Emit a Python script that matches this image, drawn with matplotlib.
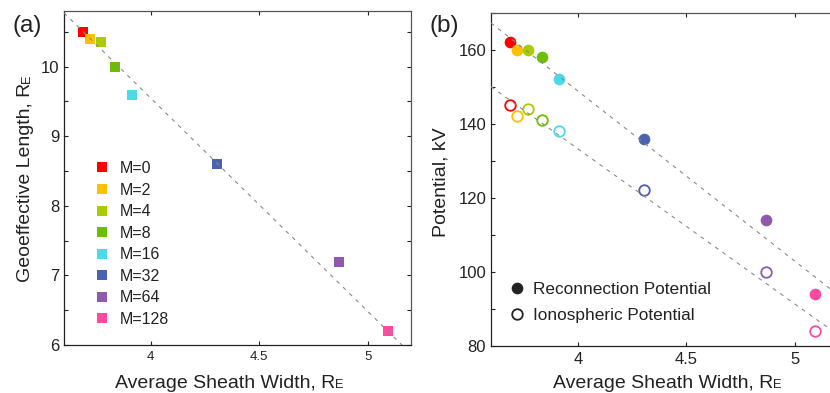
import matplotlib
matplotlib.use('Agg')
import matplotlib.pyplot as plt
from matplotlib.lines import Line2D
from matplotlib.ticker import MultipleLocator
import numpy as np

plt.rcParams['font.family'] = ['Liberation Sans', 'DejaVu Sans']

# ---------------- data ----------------
m_labels = ['M=0', 'M=2', 'M=4', 'M=8', 'M=16', 'M=32', 'M=64', 'M=128']
colors = ['#ff0000', '#ffc000', '#a8cc00', '#6cbf00', '#4fd8e6', '#4a62b0', '#9159ad', '#ff4aa0']
sheath_width = [3.689, 3.720, 3.771, 3.836, 3.915, 4.307, 4.866, 5.093]
geo_length = [10.5, 10.4, 10.35, 10.0, 9.6, 8.6, 7.2, 6.2]
recon_potential = [162, 160, 160, 158, 152, 136, 114, 94]
iono_potential = [145, 142, 144, 141, 138, 122, 100, 84]

W, H = 830, 393
TC = '#222222'
DASH = (0, (3.5, 4.5))
fig = plt.figure(figsize=(W / 100, H / 100), dpi=100)

axa = fig.add_axes([64 / W, 1 - 345 / H, (411 - 64) / W, (345 - 11) / H])
axb = fig.add_axes([491 / W, 1 - 346 / H, (838 - 491) / W, (346 - 12.7) / H])

xs = np.array(sheath_width)
xline = np.array([3.6, 5.2])

# ---------------- panel (a) ----------------
for x, y, c, lab in zip(sheath_width, geo_length, colors, m_labels):
    axa.plot([x], [y], 's', ms=7.7, color=c, mew=0, label=lab, zorder=2)
pa = np.polyfit([xs[0], xs[-1]], [geo_length[0], geo_length[-1]], 1)
axa.plot(xline, np.polyval(pa, xline), ls=DASH, color='#8a8a8a', lw=0.8, zorder=3)
axa.set_xlim(3.6, 5.2)
axa.set_ylim(6, 10.8)
axa.yaxis.set_major_locator(MultipleLocator(1))
axa.yaxis.set_minor_locator(MultipleLocator(0.5))
axa.set_xticks([4, 4.5, 5])
axa.set_xticklabels(['4', '4.5', '5'])
axa.tick_params(axis='x', labelsize=9.5, pad=4.5)
axa.tick_params(axis='y', labelsize=12, pad=3.5)
leg = axa.legend(loc='upper left', bbox_to_anchor=(93.7 / W, 1 - 161 / H), bbox_transform=fig.transFigure,
                 frameon=False, fontsize=11.5, handlelength=1.0, handletextpad=0.64,
                 labelspacing=0.41, borderpad=0, borderaxespad=0, markerscale=1.0)
for t in leg.get_texts():
    t.set_color(TC)

# ---------------- panel (b) ----------------
for x, y1, y2, c in zip(sheath_width, recon_potential, iono_potential, colors):
    axb.plot([x], [y1], 'o', ms=8.4, color=c, mew=0, zorder=2)
    axb.plot([x], [y2], 'o', ms=7.6, mfc='white', mec=c, mew=1.3, zorder=2)
pr = np.polyfit(xs, recon_potential, 1)
pi = np.polyfit(xs, iono_potential, 1)
axb.plot(xline, np.polyval(pr, xline), ls=DASH, color='#8a8a8a', lw=0.8, zorder=3)
axb.plot(xline, np.polyval(pi, xline), ls=DASH, color='#8a8a8a', lw=0.8, zorder=3)
axb.set_xlim(3.6, 5.2)
axb.set_ylim(80, 170)
axb.set_xticks([4, 4.5, 5])
axb.set_xticklabels(['4', '4.5', '5'])
axb.yaxis.set_major_locator(MultipleLocator(20))
axb.yaxis.set_minor_locator(MultipleLocator(10))
axb.tick_params(axis='x', labelsize=12, pad=4.5)
axb.tick_params(axis='y', labelsize=12, pad=3.5)
hb = [Line2D([], [], ls='none', marker='o', ms=8.4, color=TC, mew=0),
      Line2D([], [], ls='none', marker='o', ms=7.6, mfc='white', mec=TC, mew=1.3)]
legb = axb.legend(hb, ['Reconnection Potential', 'Ionospheric Potential'], loc='upper left',
                  bbox_to_anchor=(508 / W, 1 - 282 / H), bbox_transform=fig.transFigure,
                  frameon=False, fontsize=12.4, handlelength=1.0, handletextpad=0.43,
                  labelspacing=0.62, borderpad=0, borderaxespad=0)
for t in legb.get_texts():
    t.set_color(TC)

for ax in (axa, axb):
    ax.tick_params(which='both', direction='in', top=True, right=True, length=3, width=0.8,
                   color=TC, labelcolor=TC)
    for s in ('left', 'bottom'):
        ax.spines[s].set_color(TC)
    for s in ('top', 'right'):
        ax.spines[s].set_color('#555555')
    for s in ax.spines.values():
        s.set_linewidth(0.9)

# ---------------- labels ----------------
fig.canvas.draw()
renderer = fig.canvas.get_renderer()


def sub_label(center, base, main, sub, size=14, subsize=9.3, vertical=False):
    rot = 90 if vertical else 0
    t = fig.text(0, 0, main, size=size, color=TC, ha='left', va='baseline',
                 rotation=rot, rotation_mode='anchor')
    s = fig.text(0, 0, sub, size=subsize, color=TC, ha='left', va='baseline',
                 rotation=rot, rotation_mode='anchor')
    mb = t.get_window_extent(renderer)
    sb = s.get_window_extent(renderer)
    lm = mb.height if vertical else mb.width
    ls = sb.height if vertical else sb.width
    start = center - (lm + ls) / 2
    if vertical:
        t.set_position((base / W, start / H))
        s.set_position((base / W, (start + lm) / H))
    else:
        t.set_position((start / W, base / H))
        s.set_position(((start + lm) / W, base / H))


sub_label(229.5, 4.5, 'Average Sheath Width, R', 'E')
sub_label(667, 4.5, 'Average Sheath Width, R', 'E')
sub_label(215, 29.5, 'Geoeffective Length, R', 'E', vertical=True)
fig.text(445.7 / W, 211 / H, 'Potential, kV', size=14, color=TC, ha='center', va='baseline',
         rotation=90, rotation_mode='anchor')

fig.text(12 / W, 1 - 26 / H, '(a)', size=17.5, color=TC, ha='left', va='center')
fig.text(429 / W, 1 - 26 / H, '(b)', size=17.5, color=TC, ha='left', va='center')

fig.savefig('out.png', dpi=100)
